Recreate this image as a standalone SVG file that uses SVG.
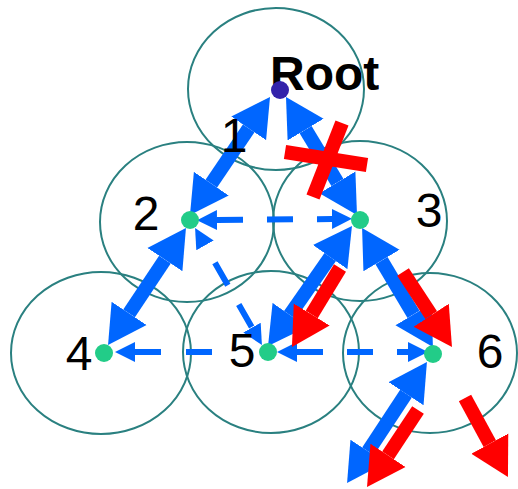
<svg xmlns="http://www.w3.org/2000/svg" width="518" height="489" viewBox="0 0 518 489">
<style>
.ring{fill:none;stroke:#2a8080;stroke-width:2}
.dot{fill:#22cc88}
.lbl{font-family:"Liberation Sans",Arial,sans-serif;font-size:48px;fill:#000;text-anchor:middle}
.big{stroke:#0066ff;stroke-width:14;fill:none}
.red{stroke:#ff0000;stroke-width:14;fill:none}
.dash{stroke:#0066ff;stroke-width:6;fill:none;stroke-dasharray:26 24}
</style>
<defs>
<marker id="hb" markerUnits="userSpaceOnUse" viewBox="0 -22 40 44" markerWidth="40" markerHeight="44" refX="0" refY="0" orient="auto-start-reverse"><path d="M0,-21 L38,0 L0,21 z" fill="#0066ff"/></marker>
<marker id="hr" markerUnits="userSpaceOnUse" viewBox="0 -22 40 44" markerWidth="40" markerHeight="44" refX="0" refY="0" orient="auto-start-reverse"><path d="M0,-21 L38,0 L0,21 z" fill="#ff0000"/></marker>
<marker id="hs" markerUnits="userSpaceOnUse" viewBox="0 -11 22 22" markerWidth="22" markerHeight="22" refX="0" refY="0" orient="auto-start-reverse"><path d="M0,-10 L20,0 L0,10 z" fill="#0066ff"/></marker>
</defs>
<g id="circles">
<ellipse class="ring" cx="276" cy="89" rx="88" ry="81"/>
<ellipse class="ring" cx="187" cy="222" rx="87" ry="80"/>
<ellipse class="ring" cx="360" cy="221" rx="87" ry="80"/>
<ellipse class="ring" cx="101" cy="353" rx="90" ry="81"/>
<ellipse class="ring" cx="271" cy="352" rx="88" ry="81"/>
<ellipse class="ring" cx="430" cy="353" rx="87" ry="80"/>
</g>
<g id="connectors">
<line class="big" x1="248.7" y1="128.4" x2="211.3" y2="183.6" marker-start="url(#hb)" marker-end="url(#hb)"/>
<line class="big" x1="305.6" y1="129.6" x2="337.4" y2="182.4" marker-start="url(#hb)" marker-end="url(#hb)"/>
<line class="big" x1="164.9" y1="259.6" x2="129.1" y2="313.4" marker-start="url(#hb)" marker-end="url(#hb)"/>
<line class="big" x1="330.2" y1="257.1" x2="289.8" y2="314.9" marker-start="url(#hb)" marker-end="url(#hb)"/>
<line class="big" x1="381.5" y1="260.6" x2="413.5" y2="314.4" marker-start="url(#hb)" marker-end="url(#hb)"/>
<line class="big" x1="406" y1="393.7" x2="368" y2="451.3" marker-start="url(#hb)" marker-end="url(#hb)"/>
<line class="dash" x1="217" y1="220" x2="332" y2="219" marker-start="url(#hs)" marker-end="url(#hs)"/>
<line class="dash" x1="205" y1="245.4" x2="252" y2="327.6" style="stroke-dasharray:26 22;stroke-dashoffset:28" marker-start="url(#hs)" marker-end="url(#hs)"/>
<line class="dash" x1="297" y1="352" x2="408" y2="352" marker-start="url(#hs)" marker-end="url(#hs)"/>
<line class="dash" x1="212" y1="352" x2="135" y2="352" style="stroke-dasharray:26 25" marker-end="url(#hs)"/>
<line class="red" x1="340" y1="268" x2="311.7" y2="314.5" marker-end="url(#hr)"/>
<line class="red" x1="403" y1="272" x2="431.2" y2="315.2" marker-end="url(#hr)"/>
<line class="red" x1="418" y1="410" x2="388" y2="455.3" marker-end="url(#hr)"/>
<line class="red" x1="465" y1="398" x2="489.8" y2="443.6" marker-end="url(#hr)"/>
<line class="red" x1="285" y1="152" x2="367" y2="165"/>
<line class="red" x1="342" y1="123" x2="313" y2="197"/>
</g>
<g id="root">
<text x="270" y="90" font-family="Liberation Sans, Arial, sans-serif" font-size="48" font-weight="bold">Root</text>
<circle cx="280" cy="90" r="9" fill="#3322aa"/>
</g>
<g id="node2"><circle class="dot" cx="190" cy="220" r="9"/><text class="lbl" x="146" y="230">2</text></g>
<g id="node3"><circle class="dot" cx="360" cy="220" r="9"/><text class="lbl" x="429" y="227">3</text></g>
<g id="node4"><circle class="dot" cx="104" cy="353" r="9"/><text class="lbl" x="79" y="370">4</text></g>
<g id="node5"><circle class="dot" cx="268" cy="352" r="9"/><text class="lbl" x="242" y="367">5</text></g>
<g id="node6"><circle class="dot" cx="433" cy="354" r="9"/><text class="lbl" x="490" y="368">6</text></g>
<g id="label1"><text class="lbl" x="234" y="152">1</text></g>
</svg>
